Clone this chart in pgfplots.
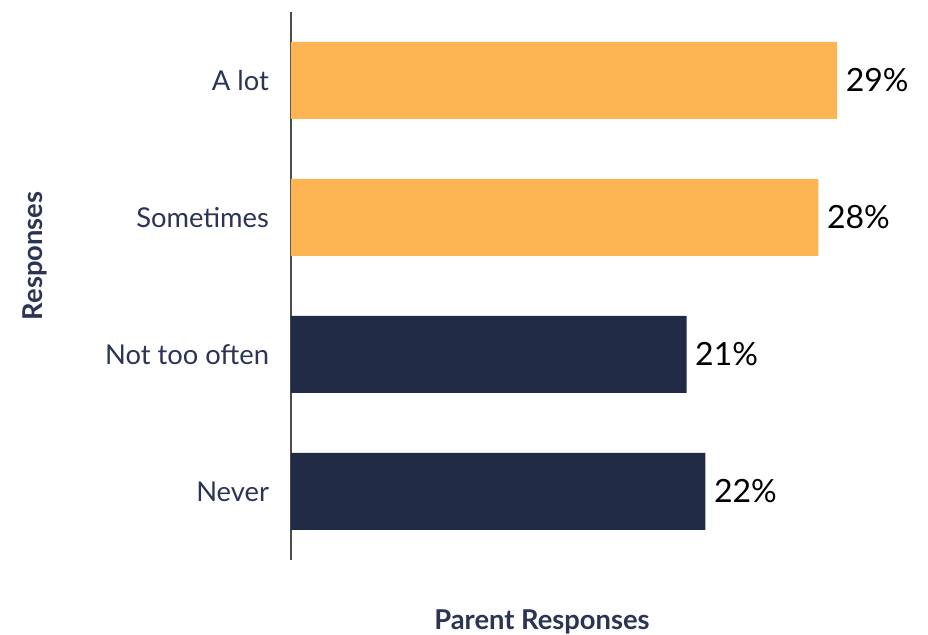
\documentclass[border=0pt]{standalone}
\usepackage{fontspec}
\setmainfont{Lato}
\usepackage{pgfplots}
\pgfplotsset{compat=1.18}
\definecolor{barorange}{HTML}{FDB553}
\definecolor{barnavy}{HTML}{222B45}
\definecolor{txtnavy}{HTML}{2B3454}
\begin{document}
\begin{tikzpicture}[x=0.75pt,y=0.75pt]
\path[use as bounding box] (-291,-75) rectangle (637,560);
\begin{axis}[
  at={(0,0)}, anchor=south west,
  scale only axis,
  width=452pt, height=411pt,
  xmin=0, xmax=32,
  ymin=-0.5, ymax=3.5,
  xbar, bar width=57.75pt,
  bar shift=0pt,
  axis x line=none,
  axis y line*=left,
  y axis line style={draw=black!70, line width=0.8pt, -},
  ytick={0,1,2,3},
  yticklabels={Never,Not too often,Sometimes,A lot},
  major tick length=0pt,
  yticklabel style={font=\fontsize{20.5}{24}\selectfont, text=txtnavy, xshift=-13pt},
  /pgf/number format/assume math mode=true,
  nodes near coords={\pgfmathprintnumber[assume math mode=true]{\pgfplotspointmeta}\%},
  point meta=x,
  every node near coord/.append style={font=\fontsize{24}{28}\selectfont, text=black, xshift=3pt},
  clip=false,
]
\addplot[fill=barnavy, draw=none] coordinates {(22,0) (21,1)};
\addplot[fill=barorange, draw=none] coordinates {(28,2) (29,3)};
\end{axis}
\node[rotate=90, font=\bfseries\fontsize{20.5}{24}\selectfont, text=txtnavy] at (-256,304) {Responses};
\node[font=\bfseries\fontsize{20.5}{24}\selectfont, text=txtnavy] at (251,-62) {Parent Responses};
\end{tikzpicture}
\end{document}
